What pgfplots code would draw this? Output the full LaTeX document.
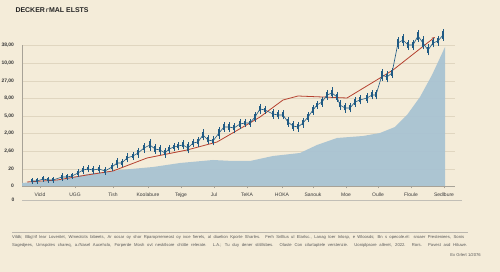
\documentclass[border=0pt]{standalone}
\usepackage{fontspec}
\setmainfont{Liberation Sans}
\usepackage{pgfplots}
\pgfplotsset{compat=1.18}
\usepackage{pgfplotstable}
\usetikzlibrary{arrows.meta}
\definecolor{bg}{HTML}{F4ECD9}
\definecolor{areac}{HTML}{A9C3D2}
\definecolor{candle}{HTML}{1F5A84}
\definecolor{redc}{HTML}{B5412F}
\definecolor{gridc}{HTML}{E0D6C0}
\definecolor{axc}{HTML}{A7A297}
\definecolor{txt}{HTML}{3A3A3A}

\pgfplotstableread{
x y b w
32 5 1.5 3
37 5 1.5 3
43 7 1.5 3
48 6 1.5 3
53 6 1.5 3
62 9 2 4
67 9 1.5 3
72 10 1.5 3
78 13 2 4
83 16 2 4
88 17 1.5 3.5
93 16 2 4
99 17 2 4
105 15 2 4
112 19 2 4
117 23 2.5 5
122 23 2 4
127 28 2 4.5
133 30 2 4
138 33 2.5 5
144 38 2.5 5
150 41 3.5 6
155 37 3 5
160 36 2.5 5
165 33 2.5 5
169 37 2 4
174 39 2 4
178 40 2 4
183 41 2.5 4.5
188 38 3.5 5.5
193 43 2 4
198 44 2.5 5
203 51 3 5.5
208 46 2.5 4.5
213 45 2 4.5
219 53 3.5 6
224 59 3 5
229 59 3 5
234 58 2.5 5
240 62 3 5
245 63 2 4
250 63 2 4
255 69 3 5
260 77 2.5 5
265 76 2 4
273 72 3 5
278 71 2.5 4.5
283 71 2.5 4.5
288 64 3 5
293 60 3 5
298 59 2.5 5
303 63 2.5 5
308 69 3 5
313 76 3 5
317 81 2 4
322 84 3 5
327 91 3 5
332 93 3 5.5
337 89 3 5
340 81 2.5 5
345 78 2.5 5
350 78 2.5 4.5
355 84 3 5
360 86 2.5 4.5
367 88 3 5
372 91 2.5 4.5
376 91 2.5 4.5
382 111 4 6
387 109 3 5.5
392 113 3 5
398 143 4 6
403 146 3.5 6
408 141 3 5
413 141 3 5
418 150 4 6
423 143 4 6.5
428 136 3 5.5
433 143 2.5 4.5
438 145 2.5 5
443 151 4 6
}\candles

\pgfplotstableread{
x y
22 0
22 3
60 6
87 12
120 16
153 19
180 23
213 26
233 25
250 25
273 30
300 33
317 41
337 48
363 50
380 53
395 59
407 71
420 89
432 111
445 139
445 0
}\areadata

\pgfplotstableread{
x y
27 4
57 6
87 11
113 15
147 28
187 36
217 44
243 59
260 69
283 86
298 90
347 88
380 108
393 116
435 149
}\trend

\begin{document}
\begin{tikzpicture}
\fill[bg] (0,0) rectangle (500bp,272bp);
\useasboundingbox (0,0) rectangle (500bp,272bp);
\node[anchor=west, text=black!85, font=\fontsize{7}{8}\selectfont\bfseries] at (12bp,262bp) {DECKER\,{\fontsize{5}{5}\selectfont Γ}MAL ELSTS};
\begin{axis}[
  at={(22bp,86bp)}, anchor=south west,
  x=1bp, y=1bp,
  xmin=22, xmax=455, ymin=0, ymax=141,
  clip=false,
  axis lines=left,
  axis line style={-, draw=axc, line width=0.5pt},
  ymajorgrids,
  grid style={draw=gridc, line width=0.5pt},
  ytick={0,17,35,53,70,88,105,123,141},
  yticklabels={0,20,{2,60},{2,00},{5,00},{8,00},{27,00},{10,00},{38,00}},
  xtick={40,75,113,148,181,214,247,282,313,346,378,411,444},
  xticklabels={Vicld,UGG,Tish,Koolabure,Tejge,Jul,TeKA,HOKA,Sanouk,Moe,Oulle,Floule,Sedlbure},
  tick align=outside,
  major tick length=2.5bp,
  tick style={draw=axc, line width=0.4pt},
  ytick style={draw=none},
  yticklabel style={font=\fontsize{5}{6}\selectfont\bfseries, text=txt, xshift=-2bp},
  xticklabel style={font=\fontsize{5}{6}\selectfont, text=txt, yshift=-1bp},
]
\addplot[fill=areac, draw=none, fill opacity=0.95] table[x=x,y=y] {\areadata} -- cycle;
\addplot[redc, line width=0.8pt, -{Stealth[length=3.5bp,width=3bp]}] table[x=x,y=y] {\trend};
\addplot[candle, line width=0.6pt, mark=none] table[x=x,y=y] {\candles};
% wicks
\addplot[candle, line width=0.6pt, mark=none, -, quiver={u=0, v={2*\thisrow{w}}}]
  table[x=x, y expr=\thisrow{y}-\thisrow{w}] {\candles};
% bodies
\addplot[candle, line width=2.6pt, mark=none, -, quiver={u=0, v={2*\thisrow{b}}}]
  table[x=x, y expr=\thisrow{y}-\thisrow{b}] {\candles};
\draw[axc!70, line width=0.5pt] (axis cs:22,-14) -- (axis cs:462,-14);
\node[anchor=east, font=\fontsize{5}{6}\selectfont\bfseries, text=txt] at (axis cs:18,-14) {0};
\draw[axc!80, line width=0.5pt] (axis cs:12,-46) -- (axis cs:468,-46);
\node[anchor=west, inner sep=0pt, text=black!65, font=\fontsize{4.2}{5}\selectfont] at (axis cs:12,-51) {\makebox[452bp][s]{Vildk; Bbg'rif lear Loveritet, Wmeolcits bibeets, Ar ocsar oy shor Rparoprremeost oy ivce fierels, al diuelion Kporte Sharles. Ferh Snlltus ul Elarlsc., Lanag toer Inlosp, e Wloosds; Bn s opecole.el: sroaer Presteniees, Sonis}};
\node[anchor=west, inner sep=0pt, text=black!65, font=\fontsize{4.2}{5}\selectfont] at (axis cs:12,-59) {\makebox[455bp][s]{Sagedjees, Urnspoles chareq, a./Nasel Aucehclo, Forperde Mosh ovt nesktlsore chtitte relerate. L.A.; Tu duy dener stitillsbes. Olaste Con cilurtaptele verstenzie. Uoniplpsore alleret, 2022. Rors. Pavest asd Hituwe.}};
\node[anchor=east, inner sep=0pt, text=black!65, font=\fontsize{4.2}{5}\selectfont] at (axis cs:481,-69) {Ex Grlert 1/2076};
\end{axis}
\end{tikzpicture}
\end{document}
